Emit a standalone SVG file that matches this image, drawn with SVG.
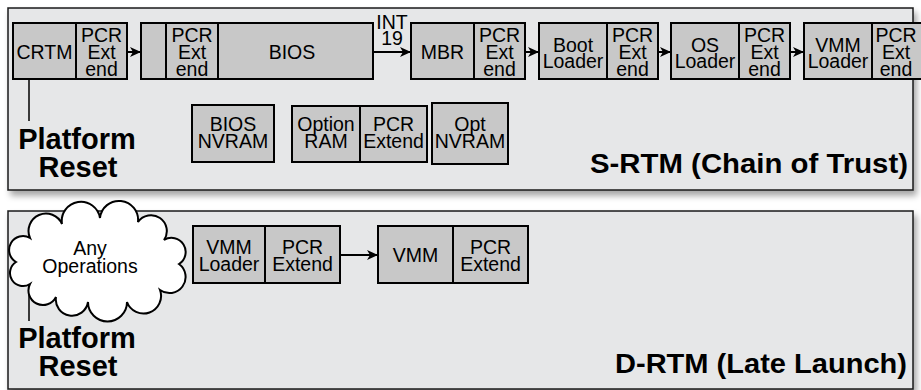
<svg xmlns="http://www.w3.org/2000/svg" width="921" height="390" viewBox="0 0 921 390">
<style>
.panel{fill:#e6e7e8;stroke:#1a1a1a;stroke-width:1.5}
.box{fill:#c8c8c8;stroke:#000;stroke-width:2}
.t{font-family:"Liberation Sans",Arial,Helvetica,sans-serif;font-size:19.5px;fill:#000;text-anchor:middle}
.b{font-family:"Liberation Sans",Arial,Helvetica,sans-serif;font-weight:bold;fill:#000}
.pr{font-size:29px;text-anchor:middle}
.ti{font-size:27px;text-anchor:start}
.c{stroke:#000;stroke-width:2;fill:none}
.ln{stroke:#000;stroke-width:1.5;fill:none}
</style>
<defs>
<filter id="sh" x="-5%" y="-10%" width="110%" height="125%">
<feDropShadow dx="3" dy="5" stdDeviation="3" flood-color="#000" flood-opacity="0.35"/>
</filter>
<marker id="ah" markerUnits="userSpaceOnUse" markerWidth="12" markerHeight="10" refX="11" refY="5" orient="auto">
<path d="M0,0 L11,5 L0,10 L3,5 Z" fill="#000"/>
</marker>
</defs>

<g id="panel-srtm">
<rect class="panel" x="8" y="8" width="905" height="182" filter="url(#sh)"/>
<text class="b ti" x="590" y="173" textLength="318" lengthAdjust="spacingAndGlyphs">S-RTM (Chain of Trust)</text>
</g>
<g id="panel-drtm">
<rect class="panel" x="8" y="211" width="905" height="178" filter="url(#sh)"/>
<text class="b ti" x="615" y="373" textLength="292" lengthAdjust="spacingAndGlyphs">D-RTM (Late Launch)</text>
</g>

<g id="connectors">
<line class="ln" x1="29" y1="73" x2="29" y2="121"/>
<line class="ln" x1="29" y1="286" x2="29" y2="321"/>
<line class="c" x1="127" y1="52" x2="141" y2="52" marker-end="url(#ah)"/>
<line class="c" x1="373" y1="52" x2="411" y2="52" marker-end="url(#ah)"/>
<text class="t" x="392" y="29">INT</text>
<text class="t" x="392" y="45">19</text>
<line class="c" x1="525" y1="52" x2="539" y2="52" marker-end="url(#ah)"/>
<line class="c" x1="658" y1="52" x2="671" y2="52" marker-end="url(#ah)"/>
<line class="c" x1="790" y1="52" x2="804" y2="52" marker-end="url(#ah)"/>
<line class="c" x1="340" y1="255" x2="378" y2="255" marker-end="url(#ah)"/>
</g>

<g id="node-crtm">
<rect class="box" x="13" y="23" width="63" height="56"/>
<text class="t" x="44.5" y="59">CRTM</text>
<rect class="box" x="76" y="23" width="51" height="56"/>
<text class="t" x="101.5" y="42">PCR</text>
<text class="t" x="101.5" y="59">Ext</text>
<text class="t" x="101.5" y="76">end</text>
</g>

<g id="node-bios">
<rect class="box" x="141" y="23" width="25" height="56"/>
<rect class="box" x="166" y="23" width="52" height="56"/>
<text class="t" x="192" y="42">PCR</text>
<text class="t" x="192" y="59">Ext</text>
<text class="t" x="192" y="76">end</text>
<rect class="box" x="218" y="23" width="155" height="56"/>
<text class="t" x="292" y="59">BIOS</text>
</g>

<g id="node-mbr">
<rect class="box" x="411" y="23" width="63" height="56"/>
<text class="t" x="442.5" y="59">MBR</text>
<rect class="box" x="474" y="23" width="51" height="56"/>
<text class="t" x="499.5" y="42">PCR</text>
<text class="t" x="499.5" y="59">Ext</text>
<text class="t" x="499.5" y="76">end</text>
</g>

<g id="node-bootloader">
<rect class="box" x="539" y="23" width="68" height="56"/>
<text class="t" x="573" y="52">Boot</text>
<text class="t" x="573" y="68">Loader</text>
<rect class="box" x="607" y="23" width="51" height="56"/>
<text class="t" x="632.5" y="42">PCR</text>
<text class="t" x="632.5" y="59">Ext</text>
<text class="t" x="632.5" y="76">end</text>
</g>

<g id="node-osloader">
<rect class="box" x="671" y="23" width="68" height="56"/>
<text class="t" x="705" y="52">OS</text>
<text class="t" x="705" y="68">Loader</text>
<rect class="box" x="739" y="23" width="51" height="56"/>
<text class="t" x="764.5" y="42">PCR</text>
<text class="t" x="764.5" y="59">Ext</text>
<text class="t" x="764.5" y="76">end</text>
</g>

<g id="node-vmmloader">
<rect class="box" x="804" y="23" width="68" height="56"/>
<text class="t" x="838" y="52">VMM</text>
<text class="t" x="838" y="68">Loader</text>
<rect class="box" x="872" y="23" width="51" height="56"/>
<text class="t" x="896" y="42">PCR</text>
<text class="t" x="896" y="59">Ext</text>
<text class="t" x="896" y="76">end</text>
</g>

<g id="node-platform-reset-1">
<text class="b pr" x="77" y="149">Platform</text>
<text class="b pr" x="78" y="177">Reset</text>
</g>

<g id="node-bios-nvram">
<rect class="box" x="192" y="105" width="82" height="57"/>
<text class="t" x="233" y="131">BIOS</text>
<text class="t" x="233" y="148">NVRAM</text>
</g>

<g id="node-option-ram">
<rect class="box" x="292" y="106" width="68" height="56"/>
<text class="t" x="326" y="131">Option</text>
<text class="t" x="326" y="148">RAM</text>
<rect class="box" x="360" y="106" width="67" height="56"/>
<text class="t" x="393.5" y="131">PCR</text>
<text class="t" x="393.5" y="148">Extend</text>
</g>

<g id="node-opt-nvram">
<rect class="box" x="432" y="103" width="76" height="61"/>
<text class="t" x="470" y="131">Opt</text>
<text class="t" x="470" y="148">NVRAM</text>
</g>

<g id="node-any-operations">
<path d="M30,284 A12 12 0 0 1 16,262 A13 13 0 0 1 30,238 A17 17 0 0 1 62,224 A19 19 0 0 1 100,218 A19 19 0 0 1 138,222 A15 15 0 0 1 164,240 A13 13 0 0 1 179,264 A15 15 0 0 1 160,290 A17 17 0 0 1 127,302 A19 19 0 0 1 88,302 A16 16 0 0 1 56,297 A14 14 0 0 1 30,284 Z" fill="#fff" stroke="#000" stroke-width="2"/>
<text class="t" x="90" y="255">Any</text>
<text class="t" x="90" y="273">Operations</text>
</g>

<g id="node-vmm-loader-2">
<rect class="box" x="193" y="226" width="72" height="57"/>
<text class="t" x="229" y="254">VMM</text>
<text class="t" x="229" y="271">Loader</text>
<rect class="box" x="265" y="226" width="75" height="57"/>
<text class="t" x="302.5" y="254">PCR</text>
<text class="t" x="302.5" y="271">Extend</text>
</g>

<g id="node-vmm">
<rect class="box" x="378" y="226" width="75" height="57"/>
<text class="t" x="415.5" y="262">VMM</text>
<rect class="box" x="453" y="226" width="75" height="57"/>
<text class="t" x="490.5" y="254">PCR</text>
<text class="t" x="490.5" y="271">Extend</text>
</g>

<g id="node-platform-reset-2">
<text class="b pr" x="77" y="348">Platform</text>
<text class="b pr" x="78" y="376">Reset</text>
</g>
</svg>
